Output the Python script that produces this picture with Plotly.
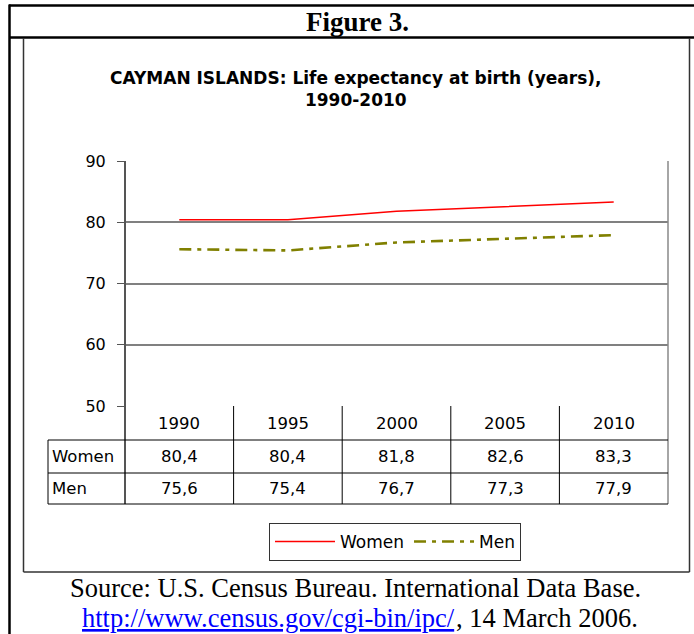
import plotly.graph_objects as go

W, H = 694, 634

years = ["1990", "1995", "2000", "2005", "2010"]
women = [80.4, 80.4, 81.8, 82.6, 83.3]
men = [75.6, 75.4, 76.7, 77.3, 77.9]
y_ticks = [50, 60, 70, 80, 90]

title = "CAYMAN ISLANDS: Life expectancy at birth (years),<br>1990-2010"
source_line = "Source: U.S. Census Bureau. International Data Base."
source_link = "http://www.census.gov/cgi-bin/ipc/"
source_date = ", 14 March 2006."


def px_x(x):
    return x / W


def px_y(y):
    return 1 - y / H


# plot area in pixels
PL, PR, PT, PB = 125, 668, 161, 406
ROW_LINES = [440, 473, 504]
LABEL_LEFT = 48

SANS = "DejaVu Sans, Arial, sans-serif"
SERIF = "Times New Roman, Liberation Serif, serif"

fig = go.Figure()
fig.add_trace(go.Scatter(
    x=years, y=women, name="Women", mode="lines",
    line=dict(color="#FF0000", width=1.5),
))
fig.add_trace(go.Scatter(
    x=years, y=men, name="Men", mode="lines",
    line=dict(color="#808000", width=2.6, dash="12px,6px,4px,6px"),
))

fig.update_xaxes(
    type="category", domain=[px_x(PL), px_x(PR)], range=[-0.5, len(years) - 0.5],
    showticklabels=False, showgrid=False, zeroline=False, showline=False, ticks="",
)
fig.update_yaxes(
    domain=[px_y(PB), px_y(PT)], range=[50, 90], tickvals=y_ticks,
    showgrid=True, gridcolor="#808080", gridwidth=1.5, zeroline=False,
    showline=False, ticks="outside", ticklen=7, tickcolor="#555555", tickwidth=1,
    ticklabelstandoff=8, tickfont=dict(family=SANS, size=16, color="black"),
)

line_black = dict(color="black", width=1)
shapes = []
# y axis line running through the table
shapes.append(dict(type="line", xref="paper", yref="paper",
                   x0=px_x(PL), x1=px_x(PL), y0=px_y(PT), y1=px_y(ROW_LINES[-1]),
                   line=dict(color="#555555", width=2)))
# right border of plot + table
shapes.append(dict(type="line", xref="paper", yref="paper",
                   x0=px_x(PR), x1=px_x(PR), y0=px_y(PT), y1=px_y(ROW_LINES[-1]),
                   line=dict(color="#888888", width=1.5)))
# column dividers in table
for i in range(1, len(years)):
    shapes.append(dict(type="line", xref="x", yref="paper",
                       x0=i - 0.5, x1=i - 0.5, y0=px_y(PB), y1=px_y(ROW_LINES[-1]),
                       line=line_black))
# row lines
for yl in ROW_LINES:
    shapes.append(dict(type="line", xref="paper", yref="paper",
                       x0=px_x(LABEL_LEFT), x1=px_x(PR), y0=px_y(yl), y1=px_y(yl),
                       line=line_black))
shapes.append(dict(type="line", xref="paper", yref="paper",
                   x0=px_x(LABEL_LEFT), x1=px_x(LABEL_LEFT),
                   y0=px_y(ROW_LINES[0]), y1=px_y(ROW_LINES[-1]), line=line_black))

# outer document frame
frame = dict(color="black", width=2.5)
shapes.append(dict(type="line", xref="paper", yref="paper",
                   x0=px_x(9), x1=1, y0=px_y(5.5), y1=px_y(5.5), line=frame))
shapes.append(dict(type="line", xref="paper", yref="paper",
                   x0=px_x(9), x1=1, y0=px_y(37.5), y1=px_y(37.5), line=frame))
shapes.append(dict(type="line", xref="paper", yref="paper",
                   x0=px_x(9.5), x1=px_x(9.5), y0=px_y(4.5), y1=0, line=frame))
# chart frame
cf = dict(color="#333333", width=1.5)
shapes.append(dict(type="line", xref="paper", yref="paper",
                   x0=px_x(23.5), x1=px_x(23.5), y0=px_y(38), y1=px_y(572), line=cf))
shapes.append(dict(type="line", xref="paper", yref="paper",
                   x0=px_x(23.5), x1=px_x(689.5), y0=px_y(572), y1=px_y(572), line=cf))
shapes.append(dict(type="line", xref="paper", yref="paper",
                   x0=px_x(689.5), x1=px_x(689.5), y0=px_y(38), y1=px_y(572), line=cf))

annotations = []
cell_font = dict(family=SANS, size=16.5, color="black")
row_mid = [(PB + ROW_LINES[0]) / 2, (ROW_LINES[0] + ROW_LINES[1]) / 2,
           (ROW_LINES[1] + ROW_LINES[2]) / 2]


def note(x, y, text, font, xref="paper", xanchor="center"):
    annotations.append(dict(x=x, y=y, xref=xref, yref="paper", text=text,
                            showarrow=False, xanchor=xanchor, yanchor="middle",
                            borderpad=0, font=font))


for i, yr in enumerate(years):
    note(i, px_y(row_mid[0]), yr, cell_font, xref="x")
for label, vals, ym in (("Women", women, row_mid[1]), ("Men", men, row_mid[2])):
    note(px_x(LABEL_LEFT + 3), px_y(ym), label, cell_font, xanchor="left")
    for i, v in enumerate(vals):
        note(i, px_y(ym), f"{v:.1f}".replace(".", ","), cell_font, xref="x")

note(px_x(357), px_y(22), "<b>Figure 3.</b>",
     dict(family=SERIF, size=27, color="black"))
note(px_x(356), px_y(89), f"<b>{title}</b>",
     dict(family=SANS, size=17, color="black"))
src_font = dict(family=SERIF, size=26.5, color="black")
note(px_x(355), px_y(588), source_line, src_font)
note(px_x(456), px_y(618), source_link,
     dict(family=SERIF, size=26.5, color="#0000FF", lineposition="under"),
     xanchor="right")
note(px_x(455), px_y(618), source_date, src_font, xanchor="left")

fig.update_layout(
    template="none",
    width=W, height=H, margin=dict(l=0, r=0, t=0, b=0, autoexpand=False),
    paper_bgcolor="white", plot_bgcolor="white",
    shapes=shapes, annotations=annotations,
    showlegend=True,
    legend=dict(orientation="h", x=px_x(395), xanchor="center",
                y=px_y(523), yanchor="top",
                bordercolor="#333333", borderwidth=1, bgcolor="white",
                font=dict(family=SANS, size=17, color="black"),
                itemwidth=60),
)

# the page's default body margin would push the fixed-size figure off screen
fig.write_html("out.html", config={"displayModeBar": False},
               post_script="document.body.style.margin='0';")
